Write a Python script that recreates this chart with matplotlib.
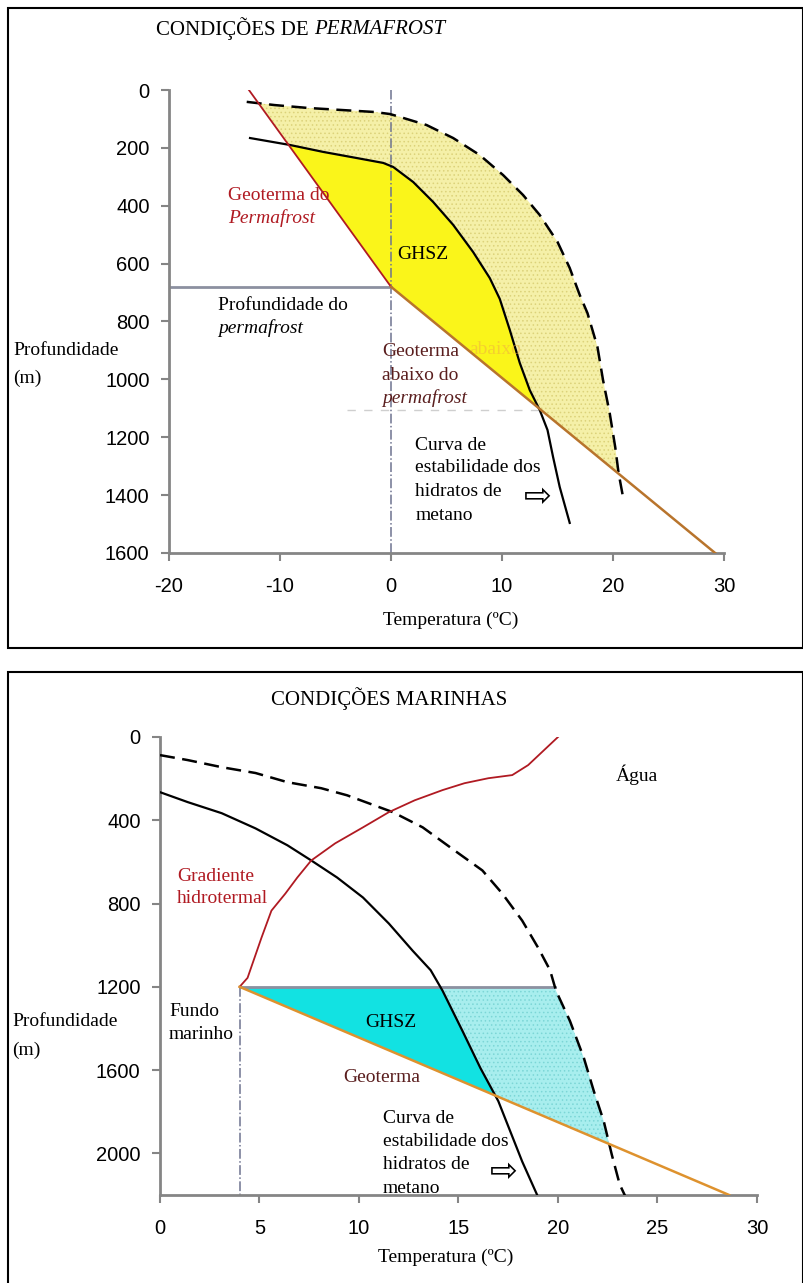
import numpy as np
import matplotlib.pyplot as plt
from matplotlib.patches import Rectangle

plt.rcParams['font.family'] = ['Liberation Serif', 'DejaVu Sans']
plt.rcParams['hatch.linewidth'] = 0.6
plt.rcParams['axes.unicode_minus'] = False

# ---- permafrost panel data (temperature in C, depth in m) ----
pf_dash_T = [-13.0, -10.5, -7.5, -4.5, -1.5, -0.1, 0.8, 3.2, 5.6, 8.0, 10.1, 11.9, 13.4, 15.0,
             16.1, 17.0, 17.7, 18.6, 19.1, 19.7, 20.2, 20.5, 20.9]
pf_dash_D = [41, 52, 62, 69, 76, 83, 93, 121, 166, 225, 294, 363, 432, 525,
             615, 708, 771, 888, 1002, 1116, 1234, 1323, 1406]
pf_solid_T = [-12.7, -9.1, -6.1, -3.1, -0.7, 0.2, 2.0, 3.8, 5.6, 7.4, 8.9, 9.8, 10.7, 11.6,
              12.5, 13.4, 14.1, 14.6, 15.2, 16.1]
pf_solid_D = [166, 190, 214, 235, 252, 266, 318, 387, 466, 560, 650, 722, 829, 943,
              1037, 1106, 1175, 1268, 1372, 1496]
pf_geo_top_T = [-12.8, 0.0]      # geotherm inside the permafrost
pf_geo_top_D = [0, 680]
pf_geo_bot_T = [0.0, 29.2]       # geotherm below the permafrost
pf_geo_bot_D = [680, 1600]
pf_base_depth = 680

# ---- marine panel data ----
mr_dash_T = [0.0, 1.4, 3.1, 4.8, 6.4, 8.1, 9.4, 11.7, 13.2, 14.8, 16.2, 17.2, 18.2, 19.0,
             19.6, 19.9, 20.6, 21.3, 21.8, 22.3, 22.7, 23.1, 23.4]
mr_dash_D = [87, 111, 145, 173, 217, 246, 280, 361, 434, 545, 641, 752, 882, 1012,
             1120, 1219, 1364, 1542, 1701, 1846, 2005, 2149, 2210]
mr_solid_T = [0.0, 1.4, 3.1, 4.8, 6.4, 7.6, 8.9, 10.2, 11.5, 12.7, 13.6, 14.2, 15.2, 16.1,
              17.0, 17.6, 18.2, 19.0]
mr_solid_D = [265, 313, 366, 439, 520, 593, 675, 771, 896, 1027, 1120, 1219, 1412, 1590,
              1749, 1894, 2039, 2210]
mr_hydro_T = [20.0, 19.3, 18.5, 17.7, 16.5, 15.3, 14.2, 12.8, 11.5, 10.2, 8.8, 7.6, 6.9, 6.3,
              5.6, 5.1, 4.4, 4.0]
mr_hydro_D = [0, 63, 135, 183, 198, 222, 255, 304, 361, 434, 511, 593, 675, 752,
              834, 964, 1157, 1200]
mr_geo_T = [4.0, 28.6]
mr_geo_D = [1200, 2200]
seafloor_T = 4.0
seafloor_D = 1200

W, H = 804, 1283
fig = plt.figure(figsize=(W / 100, H / 100), dpi=100)


def fx(x):
    return x / W


def fy(y):
    return 1 - y / H


# outer frames
fig.patches.append(Rectangle((fx(8), fy(648)), fx(795), 640 / H, transform=fig.transFigure,
                             fill=False, ec='black', lw=1.5))
fig.patches.append(Rectangle((fx(8), fy(1290)), fx(795), 618 / H, transform=fig.transFigure,
                             fill=False, ec='black', lw=1.5))

GREY = '#858585'
RED = '#B01A22'
ORANGE = '#DE922E'
BROWN = '#5A1E1E'
fs = 14


def style_axes(ax):
    for s in ['top', 'right']:
        ax.spines[s].set_visible(False)
    for s in ['left', 'bottom']:
        ax.spines[s].set_color(GREY)
        ax.spines[s].set_linewidth(2)
    ax.tick_params(colors=GREY, width=1.5, length=6, labelcolor='black')
    ax.tick_params(axis='x', pad=11)
    ax.tick_params(axis='y', pad=8)
    for lab in ax.get_xticklabels() + ax.get_yticklabels():
        lab.set_family('Liberation Sans')
        lab.set_fontsize(14.5)


def stacked(ax, x, depths, lines, **kw):
    for txt, dd in zip(lines, depths):
        ax.text(x, dd, txt, fontsize=fs, va='center', **kw)


# ===================== permafrost =====================
ax1 = fig.add_axes([fx(169), fy(553), (724 - 169) / W, (553 - 90) / H])
ax1.set_xlim(-20, 30)
ax1.set_ylim(1600, 0)
ax1.set_xticks([-20, -10, 0, 10, 20, 30])
ax1.set_yticks([0, 200, 400, 600, 800, 1000, 1200, 1400, 1600])

# shaded zones between the curves, sampled along depth
d = np.linspace(0, 1600, 1000)
geo = np.interp(d, pf_geo_top_D + pf_geo_bot_D, pf_geo_top_T + pf_geo_bot_T)
sol = np.interp(d, pf_solid_D, pf_solid_T, left=-99, right=-99)
das = np.interp(d, pf_dash_D, pf_dash_T, left=-99, right=-99)
left_pale = np.maximum(geo, sol)
ax1.fill_betweenx(d, left_pale, das, where=das > left_pale,
                  facecolor='#F5F0A8', edgecolor='#DCD27A', hatch='....', lw=0, zorder=1)
ax1.fill_betweenx(d, geo, sol, where=sol > geo, facecolor='#FAF51A', lw=0, zorder=1)

ax1.plot(pf_dash_T, pf_dash_D, color='black', lw=1.8, dashes=(6, 3), zorder=3)
ax1.plot(pf_solid_T, pf_solid_D, color='black', lw=1.6, zorder=3)
ax1.plot(pf_geo_top_T, pf_geo_top_D, color=RED, lw=1.3, zorder=4)
ax1.plot(pf_geo_bot_T, pf_geo_bot_D, color='#B8742C', lw=1.8, zorder=4)
ax1.axvline(0, color='#6E7390', lw=1.1, ls='-.', zorder=2)
ax1.plot([-20, 0], [pf_base_depth, pf_base_depth], color='#8C90A0', lw=2, zorder=2)
ax1.plot([-4, 13.5], [1107, 1107], color='#CFCFCF', lw=1, dashes=(6, 6), zorder=0)
style_axes(ax1)

ax1.text(-14.7, 363, 'Geoterma do', color=RED, fontsize=fs, va='center')
ax1.text(-14.7, 442, 'Permafrost', color=RED, fontsize=fs, va='center', style='italic')
ax1.text(2.9, 570, 'GHSZ', fontsize=fs, va='center', ha='center')
ax1.text(-15.6, 743, 'Profundidade do', fontsize=fs, va='center')
ax1.text(-15.6, 822, 'permafrost', fontsize=fs, va='center', style='italic')
ax1.text(7.1, 898, 'abaixo', color='#F0B040', alpha=0.55, fontsize=fs, va='center')
stacked(ax1, -0.8, [905, 985], ['Geoterma', 'abaixo do'], color=BROWN)
ax1.text(-0.8, 1064, 'permafrost', color=BROWN, fontsize=fs, va='center', style='italic')
stacked(ax1, 2.2, [1227, 1306, 1389, 1469], ['Curva de', 'estabilidade dos', 'hidratos de', 'metano'])
ax1.text(13.2, 1406, '\u21E8', family='DejaVu Sans', fontsize=24, va='center', ha='center')

t1 = fig.text(fx(156), fy(29), 'CONDIÇÕES DE', fontsize=15, va='center')
fig.canvas.draw()
bb = t1.get_window_extent()
fig.text((bb.x1 + 5) / W, fy(29), 'PERMAFROST', fontsize=15, va='center', style='italic')
fig.text(fx(13), fy(351), 'Profundidade', fontsize=fs, va='center')
fig.text(fx(13), fy(378), '(m)', fontsize=fs, va='center')
fig.text(fx(451), fy(620), 'Temperatura (ºC)', fontsize=fs, va='center', ha='center')

# ===================== marine =====================
ax2 = fig.add_axes([fx(160), fy(1195), (757 - 160) / W, (1195 - 737) / H])
ax2.set_xlim(0, 30)
ax2.set_ylim(2200, 0)
ax2.set_xticks([0, 5, 10, 15, 20, 25, 30])
ax2.set_yticks([0, 400, 800, 1200, 1600, 2000])

d2 = np.linspace(seafloor_D, 2200, 800)
geo2 = np.interp(d2, mr_geo_D, mr_geo_T)
sol2 = np.interp(d2, mr_solid_D, mr_solid_T)
das2 = np.interp(d2, mr_dash_D, mr_dash_T)
left2 = np.maximum(geo2, sol2)
ax2.fill_betweenx(d2, left2, das2, where=das2 > left2,
                  facecolor='#A8EEEE', edgecolor='#7CD6D6', hatch='....', lw=0, zorder=1)
ax2.fill_betweenx(d2, geo2, sol2, where=sol2 > geo2, facecolor='#12E2E2', lw=0, zorder=1)

ax2.plot(mr_dash_T, mr_dash_D, color='black', lw=1.8, dashes=(6, 3), zorder=3)
ax2.plot(mr_solid_T, mr_solid_D, color='black', lw=1.6, zorder=3)
ax2.plot(mr_hydro_T, mr_hydro_D, color=RED, lw=1.3, zorder=4)
ax2.plot(mr_geo_T, mr_geo_D, color=ORANGE, lw=1.8, zorder=4)
ax2.plot([seafloor_T, seafloor_T], [seafloor_D, 2200], color='#6E7390', lw=1.1, ls='-.', zorder=2)
ax2.plot([seafloor_T, np.interp(seafloor_D, mr_dash_D, mr_dash_T)], [seafloor_D, seafloor_D],
         color='#8C90A0', lw=2, zorder=2)
style_axes(ax2)

ax2.text(22.9, 183, 'Água', fontsize=fs, va='center')
stacked(ax2, 0.85, [670, 776], ['Gradiente', 'hidrotermal'], color=RED)
stacked(ax2, 0.45, [1320, 1431], ['Fundo', 'marinho'])
ax2.text(11.6, 1373, 'GHSZ', fontsize=fs, va='center', ha='center')
ax2.text(9.2, 1634, 'Geoterma', color=BROWN, fontsize=fs, va='center')
stacked(ax2, 11.2, [1831, 1942, 2053, 2169], ['Curva de', 'estabilidade dos', 'hidratos de', 'metano'])
ax2.text(17.3, 2087, '\u21E8', family='DejaVu Sans', fontsize=24, va='center', ha='center')

fig.text(fx(389), fy(699), 'CONDIÇÕES MARINHAS', fontsize=15, va='center', ha='center')
fig.text(fx(12), fy(1022), 'Profundidade', fontsize=fs, va='center')
fig.text(fx(12), fy(1050), '(m)', fontsize=fs, va='center')
fig.text(fx(446), fy(1257), 'Temperatura (ºC)', fontsize=fs, va='center', ha='center')

fig.savefig('out.png', dpi=100)
